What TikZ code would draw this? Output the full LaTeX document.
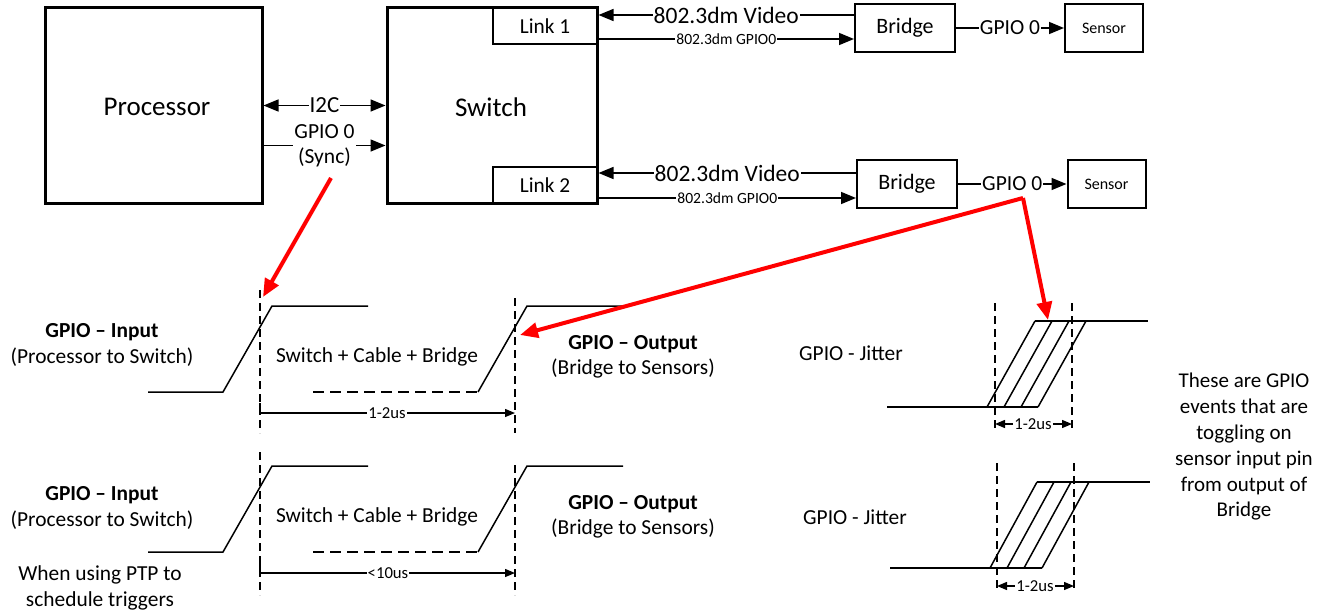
\documentclass[tikz,border=0pt]{standalone}
\usepackage{fontspec}
\setmainfont{Carlito}
\usetikzlibrary{arrows.meta}
\begin{document}
\begin{tikzpicture}[x=1pt,y=-1pt,
  bigbox/.style={draw, line width=3pt, inner sep=0pt},
  boxname/.style={inner sep=0pt, font=\fontsize{27}{32}\selectfont},
  linkbox/.style={draw, line width=2pt, inner sep=0pt, minimum width=105pt, minimum height=37pt, font=\fontsize{21.3}{25}\selectfont},
  devbox/.style={draw, line width=2pt, inner sep=0pt, minimum width=100pt, minimum height=48pt, font=\fontsize{22}{26}\selectfont},
  sensbox/.style={draw, line width=2pt, inner sep=0pt, minimum width=78pt, minimum height=48pt, font=\fontsize{16}{19}\selectfont},
  conn/.style={line width=1.5pt},
  tip/.style={-{Triangle[length=15pt,width=12pt]}},
  bothtip/.style={{Triangle[length=15pt,width=12pt]}-{Triangle[length=15pt,width=12pt]}},
  onwire/.style={fill=white, inner sep=1pt},
  biglbl/.style={font=\fontsize{23.5}{28}\selectfont},
  midlbl/.style={font=\fontsize{21.5}{25}\selectfont},
  smalllbl/.style={font=\fontsize{15.6}{18}\selectfont},
  wave/.style={line width=1.5pt},
  guide/.style={line width=1.3pt, dash pattern=on 8pt off 5pt},
  lowdash/.style={line width=1.5pt, dash pattern=on 11pt off 6pt},
  span/.style={line width=1.3pt},
  spantip/.style={-{Triangle[length=10pt,width=8pt]}},
  spanboth/.style={{Triangle[length=10pt,width=8pt]}-{Triangle[length=10pt,width=8pt]}},
  spanlbl/.style={fill=white, inner sep=1pt, font=\fontsize{16.7}{20}\selectfont},
  txt/.style={align=center, font=\fontsize{21.4}{25.5}\selectfont},
  note/.style={align=center, font=\fontsize{21}{25.8}\selectfont},
  redarr/.style={draw=red, line width=4pt, -{Triangle[length=18pt,width=15pt]}}
]
\useasboundingbox (0,0) rectangle (1320,610);

% ---- block diagram ----
\node[bigbox, minimum width=217pt, minimum height=195pt] (proc) at (153.5,105.5) {};
\node[boxname] (procname) at (157,107) {Processor};
\node[bigbox, minimum width=210pt, minimum height=195pt] (sw) at (492,105.5) {};
\node[boxname] (swname) at (491,107) {Switch};

\node[linkbox, anchor=north east] (link1) at (sw.north east) {Link 1};
\node[linkbox, anchor=south east] (link2) at (sw.south east) {Link 2};

\node[devbox] (br1) at (905,28) {Bridge};
\node[devbox] (br2) at (907,184) {Bridge};
\node[sensbox] (sen1) at (1104,28) {Sensor};
\node[sensbox] (sen2) at (1106.5,184) {Sensor};

% processor <-> switch
\draw[conn, bothtip] (proc.east) -- (sw.west)
  node[onwire, font=\fontsize{23}{27}\selectfont, pos=0.5] (i2c) {I2C};
\draw[conn, tip] ([yshift=-40pt]proc.east) -- ([yshift=-40pt]sw.west)
  node[onwire, midlbl, align=center, pos=0.5] (sync) {GPIO 0\\(Sync)};

% links <-> bridges
\draw[conn, tip] ([yshift=13pt]br1.west) -- ([yshift=13pt]br1.west -| link1.east)
  node[onwire, biglbl, pos=0.5] {802.3dm Video};
\draw[conn, tip] ([yshift=-13pt]link1.east) -- ([yshift=-13pt]link1.east -| br1.west)
  node[onwire, smalllbl, pos=0.5] {802.3dm GPIO0};
\draw[conn, tip] ([yshift=11pt]br2.west) -- ([yshift=11pt]br2.west -| link2.east)
  node[onwire, biglbl, pos=0.5] {802.3dm Video};
\draw[conn, tip] ([yshift=-13pt]link2.east) -- ([yshift=-13pt]link2.east -| br2.west)
  node[onwire, smalllbl, pos=0.5] {802.3dm GPIO0};

% bridges -> sensors
\draw[conn, tip] (br1.east) -- (sen1.west) node[onwire, midlbl, pos=0.5] {GPIO 0};
\draw[conn, tip] (br2.east) -- (sen2.west) node[onwire, midlbl, pos=0.5] (g2) {GPIO 0};

% ---- timing, top row ----
\draw[wave] (148,392) -- (223,392) -- (272,306) -- (368,306);
\draw[lowdash] (313,392) -- (478,392);
\draw[wave] (478,392) -- (527,306) -- (623,306);
\draw[guide] (260,290) -- (260,433);
\draw[guide] (515,298) -- (515,433);
\draw[span, spantip] (260,403) -- (260,413) -- (515,413);
\node[spanlbl] at (387,413) {1-2us};

\node[txt] (in1) at (102,345) {\textbf{GPIO – Input}\\(Processor to Switch)};
\node[txt] (path1) at (377,357) {Switch + Cable + Bridge};
\node[txt] (out1) at (633,357) {\textbf{GPIO – Output}\\(Bridge to Sensors)};
\node[txt] (jit1) at (851,353) {GPIO - Jitter};

\draw[wave] (887,407) -- (1038,407);
\draw[wave] (1035,321) -- (1148,321);
\foreach \b in {987,1004,1021,1038}
  \draw[wave] (\b,407) -- (\b+48,321);
\draw[guide] (995,303) -- (995,428);
\draw[guide] (1072,303) -- (1072,428);
\draw[span, spanboth] (995,424) -- (1072,424);
\node[spanlbl] at (1033,424) {1-2us};

% ---- timing, bottom row ----
\draw[wave] (148,552) -- (223,552) -- (272,466) -- (368,466);
\draw[lowdash] (313,552) -- (478,552);
\draw[wave] (478,552) -- (527,466) -- (623,466);
\draw[guide] (260,452) -- (260,595);
\draw[guide] (515,465) -- (515,595);
\draw[span, spantip] (260,563) -- (260,573) -- (515,573);
\node[spanlbl] at (388,573) {<10us};

\node[txt] (in2) at (102,508) {\textbf{GPIO – Input}\\(Processor to Switch)};
\node[txt] (ptp) at (100,588) {When using PTP to\\schedule triggers};
\node[txt] (path2) at (377,517) {Switch + Cable + Bridge};
\node[txt] (out2) at (633,517) {\textbf{GPIO – Output}\\(Bridge to Sensors)};
\node[txt] (jit2) at (855,517) {GPIO - Jitter};

\draw[wave] (890,568) -- (1042,568);
\draw[wave] (1037,482) -- (1150,482);
\foreach \b in {990,1007,1024,1042}
  \draw[wave] (\b,568) -- (\b+47,482);
\draw[guide] (997,463) -- (997,590);
\draw[guide] (1074,463) -- (1074,590);
\draw[span, spanboth] (997,586) -- (1074,586);
\node[spanlbl] at (1035,586) {1-2us};

\node[note] (expl) at (1244,447) {These are GPIO\\events that are\\toggling on\\sensor input pin\\from output of\\Bridge};

% ---- red pointers ----
\coordinate (r1s) at (331,178);
\coordinate (r1e) at (263,297);
\coordinate (r2c) at (1023,198);
\coordinate (r2a) at (520,335);
\coordinate (r2b) at (1048,320);
\draw[redarr] (r1s) -- (r1e);
\draw[redarr] (r2c) -- (r2a);
\draw[redarr] (r2c) -- (r2b);
\end{tikzpicture}
\end{document}
